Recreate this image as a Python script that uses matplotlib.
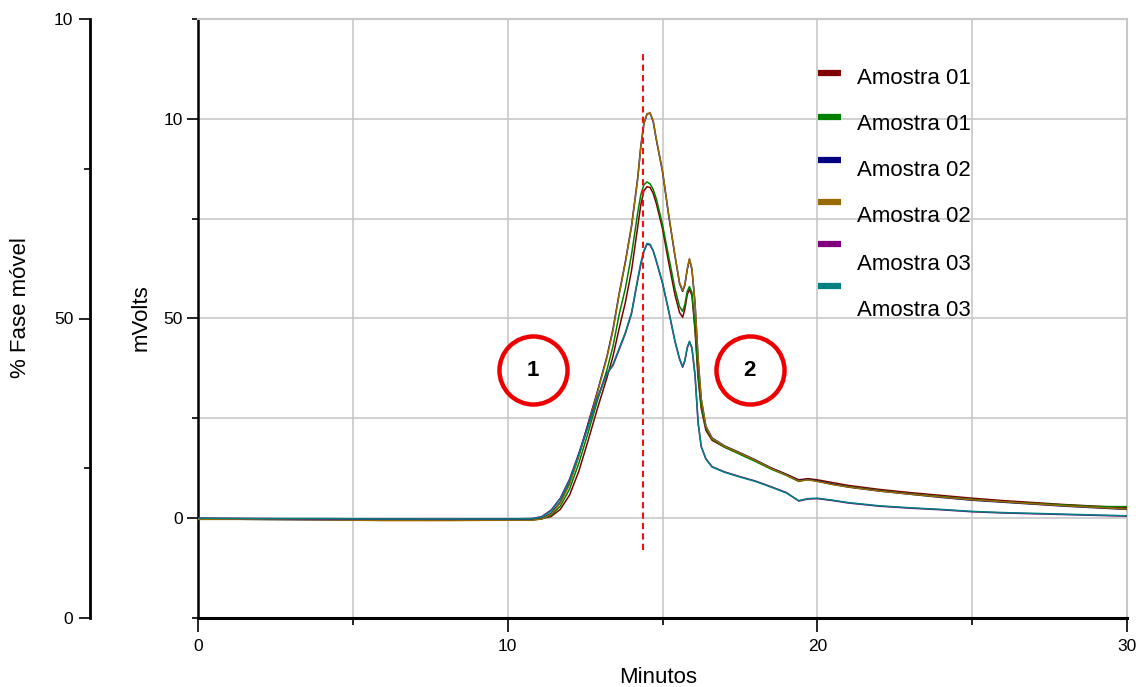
import matplotlib
matplotlib.use("Agg")
import matplotlib.pyplot as plt
from matplotlib.lines import Line2D
from matplotlib.transforms import Bbox, TransformedBbox

plt.rcParams['font.family'] = ['Liberation Sans', 'DejaVu Sans']

# Retention time grid (min)
minutos = [0, 2, 4, 6, 8, 10, 10.8, 11.1, 11.4, 11.7,
           12.0, 12.3, 12.6, 12.9, 13.2, 13.4, 13.6, 13.8, 14.0, 14.2,
           14.3, 14.4, 14.5, 14.6, 14.7, 14.8, 15.0, 15.2, 15.4, 15.55,
           15.65, 15.72, 15.8, 15.87, 15.95, 16.05, 16.15, 16.25, 16.4, 16.6,
           17.0, 17.5, 18.0, 18.5, 19.0, 19.4, 19.7, 20.0, 20.5, 21,
           22, 23, 24, 25, 26, 27, 28, 29, 30]

# Detector signal (mV)
amostra01_a = [-0.1, -0.2, -0.2, -0.3, -0.3, -0.2, -0.2, -0.1, 0.4, 2.2,
               5.8, 11.8, 19.5, 27.5, 35, 40.5, 47.5, 54, 62, 73,
               78.5, 82, 83, 82.8, 81.3, 78.8, 72.5, 64, 56, 51.5,
               50.3, 52.3, 56, 57.3, 55.8, 47, 35, 27.5, 22, 19.5,
               17.8, 16.1, 14.4, 12.6, 11.0, 9.6, 9.9, 9.6, 8.9, 8.2,
               7.2, 6.4, 5.7, 5.0, 4.4, 3.9, 3.4, 3.0, 2.6]
amostra01_b = [-0.2, -0.3, -0.3, -0.4, -0.4, -0.4, -0.4, -0.2, 0.7, 3.0,
               7.3, 13.8, 21.5, 29.5, 37, 43, 51, 57.5, 66, 76.5,
               81, 83.5, 84.2, 83.7, 82.3, 80, 73.5, 65.5, 57.5, 53,
               51.8, 53.5, 56.8, 58, 56.5, 48, 36, 28, 22.5, 19.8,
               17.8, 16.0, 14.2, 12.3, 10.7, 9.2, 9.7, 9.3, 8.5, 7.9,
               6.9, 6.1, 5.4, 4.7, 4.1, 3.7, 3.3, 2.9, 2.9]
amostra02_a = [-0.2, -0.3, -0.4, -0.5, -0.5, -0.4, -0.4, -0.1, 1.2, 4.0,
               8.8, 15.8, 23.8, 31.8, 40.3, 47.3, 56.2, 64.2, 73.2, 85.2,
               93.2, 98.8, 101.2, 101.4, 99.3, 94.8, 86.8, 75.8, 65.8, 58.8,
               56.8, 58.3, 62.3, 64.8, 62.3, 53.8, 39.8, 29.8, 23.0, 20.1,
               18.1, 16.4, 14.6, 12.6, 10.9, 9.4, 9.7, 9.3, 8.5, 7.8,
               6.8, 6.0, 5.2, 4.5, 4.0, 3.5, 3.0, 2.6, 2.2]
amostra02_b = [-0.3, -0.3, -0.4, -0.6, -0.6, -0.5, -0.5, -0.2, 1.0, 3.8,
               8.5, 15.5, 23.5, 31.5, 40, 47, 56, 64, 73, 85,
               93, 98.8, 101.3, 101.5, 99.5, 95, 87, 76, 66, 59,
               57, 58.5, 62.5, 65, 62.5, 54, 40, 30, 23, 20,
               18, 16.3, 14.5, 12.5, 10.8, 9.3, 9.6, 9.2, 8.4, 7.8,
               6.8, 6.0, 5.3, 4.6, 4.1, 3.6, 3.1, 2.7, 2.3]
amostra03_a = [0.0, -0.1, -0.2, -0.2, -0.3, -0.2, -0.1, 0.4, 2.0, 5.0,
               9.8, 16.3, 23.3, 30.2, 36.2, 38.2, 42.2, 46.2, 51.2, 59.6,
               63.5, 66.8, 68.6, 68.4, 66.9, 64.3, 58.8, 51.8, 44.3, 39.8,
               37.8, 39.3, 42.6, 44.1, 42.6, 35.8, 23.8, 17.9, 14.9, 12.9,
               11.6, 10.4, 9.3, 7.9, 6.4, 4.3, 4.8, 4.9, 4.4, 3.8,
               3.0, 2.5, 2.1, 1.6, 1.3, 1.1, 0.9, 0.7, 0.5]
amostra03_b = [0.0, -0.1, -0.1, -0.2, -0.2, -0.2, -0.1, 0.3, 1.8, 4.8,
               9.5, 16, 23, 30, 36, 38.5, 42.5, 46.5, 51.5, 60,
               64, 67, 68.8, 68.6, 67, 64.5, 59, 52, 44.5, 40,
               38, 39.5, 42.8, 44.3, 42.8, 36, 24, 18, 14.8, 12.8,
               11.5, 10.3, 9.2, 7.8, 6.3, 4.4, 4.9, 5.0, 4.5, 3.9,
               3.1, 2.6, 2.2, 1.7, 1.4, 1.2, 1.0, 0.8, 0.6]

sinais = [amostra01_a, amostra01_b, amostra02_a, amostra02_b, amostra03_a, amostra03_b]
nomes = ["Amostra 01", "Amostra 01", "Amostra 02", "Amostra 02", "Amostra 03", "Amostra 03"]
cores = ["#800000", "#008000", "#000080", "#9a6a00", "#800080", "#008080"]

# Reference retention time and region markers
t_referencia = 14.37
regioes = [("1", 10.82, 37.0), ("2", 17.82, 37.0)]

W, H = 1138, 687
fig = plt.figure(figsize=(W / 100, H / 100), dpi=100)
fig.patch.set_facecolor("white")


def fx(px):
    return px / W


def fy(py):
    return 1 - py / H


ax = fig.add_axes([fx(198), fy(618), (1127 - 198) / W, (618 - 19) / H])
ax.set_xlim(0, 30)
ax.set_ylim(-25, 125)

grid_color = "#c8c8c8"
ax.set_xticks([0, 10, 20, 30])
ax.set_xticks([5, 15, 25], minor=True)
ax.set_yticks([0, 50, 100])
ax.set_yticklabels(["0", "50", "10"])
ax.set_yticks([-25, 25, 75, 125], minor=True)
ax.grid(which="both", color=grid_color, lw=1.2)
ax.set_axisbelow(True)

for s in ("top", "right"):
    ax.spines[s].set_color(grid_color)
    ax.spines[s].set_linewidth(1.5)
ax.spines["left"].set_linewidth(1.8)
ax.spines["bottom"].set_linewidth(2.2)

ax.tick_params(axis="x", which="major", length=10, width=1.2, labelsize=12.5, pad=5)
ax.tick_params(axis="x", which="minor", length=5, width=1.2)
ax.tick_params(axis="y", which="major", length=8, width=1.2, labelsize=12.5, pad=3)
ax.tick_params(axis="y", which="minor", length=4, width=1.2)

for sinal, cor in zip(sinais, cores):
    ax.plot(minutos, sinal, color=cor, lw=1.1, zorder=3)

ax.vlines(t_referencia, -8, 117, colors="#ee1111", linestyles=(0, (3, 2)), lw=1.5, zorder=4)

for rotulo, t, v in regioes:
    ax.plot([t], [v], marker="o", ms=49, mfc="none", mec="#ee0000", mew=3.2, zorder=5)
    ax.text(t, v, rotulo, ha="center", va="center", fontsize=16, fontweight="bold", zorder=6)

# Mobile phase axis, offset to the left
ax2 = ax.twinx()
ax2.set_ylim(0, 100)
for s in ("top", "right", "bottom"):
    ax2.spines[s].set_visible(False)
ax2.spines["left"].set_visible(True)
ax2.spines["left"].set_position(("outward", 108 * 0.72))
ax2.spines["left"].set_linewidth(2.0)
ax2.yaxis.tick_left()
ax2.set_yticks([0, 50, 100])
ax2.set_yticklabels(["0", "50", "10"])
ax2.set_yticks([25, 75], minor=True)
ax2.tick_params(axis="y", which="major", length=8, width=1.2, labelsize=12.5, pad=4)
ax2.tick_params(axis="y", which="minor", length=4, width=1.2)

fig.text(fx(141), fy(318), "mVolts", rotation=90, ha="center", va="center", fontsize=16)
fig.text(fx(21), fy(308), "% Fase móvel", rotation=90, ha="center", va="center", fontsize=16)
fig.text(fx(658), fy(683), "Minutos", ha="center", va="baseline", fontsize=16)

# Legend
linha_y = [73, 117, 160, 202, 244, 286]
texto_y = [84, 130, 176, 222, 270, 316]
clip = TransformedBbox(Bbox([[0, 0], [fx(974), 1]]), fig.transFigure)
for nome, cor, yl, yt in zip(nomes, cores, linha_y, texto_y):
    fig.add_artist(Line2D([fx(818), fx(841)], [fy(yl), fy(yl)], transform=fig.transFigure,
                          color=cor, lw=4.5, solid_capstyle="butt"))
    t = fig.text(fx(857), fy(yt), nome, ha="left", va="baseline", fontsize=16)
    t.set_clip_box(clip)
    t.set_clip_on(True)

fig.savefig("out.png", dpi=100)
